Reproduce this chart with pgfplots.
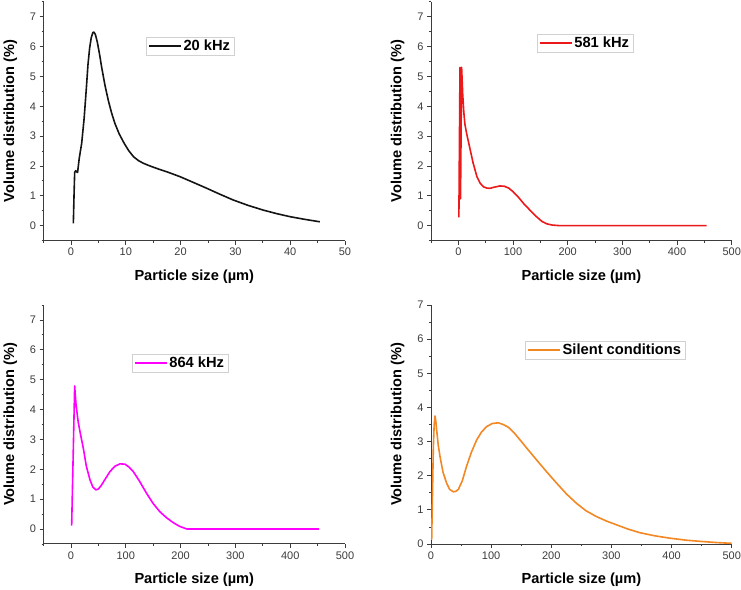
\documentclass[border=0pt]{standalone}
\usepackage{fontspec}
\setmainfont{Liberation Sans}
\usepackage{pgfplots}
\pgfplotsset{compat=1.18}

\definecolor{cBlack}{RGB}{20,20,20}
\definecolor{cRed}{RGB}{235,25,25}
\definecolor{cMag}{RGB}{255,0,255}
\definecolor{cOrange}{RGB}{242,135,35}
\definecolor{axgray}{RGB}{60,60,60}

\pgfplotsset{
  psd/.style={
    scale only axis,
    axis x line=bottom, axis y line=left,
    axis line style={-, axgray, line width=0.9pt},
    tick align=outside,
    major tick length=4pt, minor tick length=2pt,
    every tick/.style={axgray, line width=0.8pt},
    tick label style={font=\fontsize{11}{11}\selectfont, text=axgray},
    /pgf/number format/assume math mode=true,
    xlabel={\bfseries Particle size (µm)},
    ylabel={\bfseries Volume distribution (\%)},
    label style={font=\fontsize{14.6}{15}\selectfont},
    xlabel style={yshift=-7pt},
    ylabel style={yshift=6pt},
    ytick={0,1,...,7},
    legend cell align=left,
    legend image code/.code={\draw[#1, line width=1.5pt] (0pt,0pt) -- (32pt,0pt);},
    legend style={draw=black!18, line width=0.6pt, font=\fontsize{14.7}{15}\selectfont\bfseries,
      inner xsep=2pt, inner ysep=1pt, anchor=center, fill=white},
    every axis plot/.append style={line width=1.6pt, line join=round},
  }
}

\begin{document}
\begin{tikzpicture}
\useasboundingbox (0pt,0pt) rectangle (741pt,589pt);

% 20 kHz
\begin{axis}[psd, at={(43.6pt,348.4pt)}, anchor=south west, width=301.4pt, height=238.9pt,
  xmin=-5, xmax=50, ymin=-0.5, ymax=7.5,
  xtick={0,10,...,50}, minor xtick={-5,5,15,25,35,45},
  minor ytick={-0.5,0.5,...,7.5},
  legend style={at={(axis description cs:0.486,0.815)}}]
\addplot[cBlack] coordinates {
 (0.43,0.08) (0.55,1.0) (0.67,1.78) (0.85,1.84) (1.05,1.80) (1.2,1.78) (1.5,2.25)
 (1.95,2.76) (2.4,3.6) (2.8,4.6) (3.1,5.4) (3.4,5.95) (3.7,6.3) (4.0,6.47) (4.2,6.48)
 (4.45,6.4) (4.8,6.15) (5.2,5.75) (5.6,5.3) (6.2,4.7) (6.8,4.2) (7.4,3.78) (8.0,3.43)
 (8.8,3.07) (9.7,2.76) (10.5,2.52) (11.4,2.31) (12.3,2.18) (13.2,2.09) (14.4,2.0)
 (15.6,1.92) (17.7,1.79) (19.9,1.64) (22.3,1.45) (24.8,1.25) (27.2,1.05) (29.6,0.86)
 (32.3,0.68) (35.1,0.52) (37.6,0.4) (40,0.3) (42.7,0.21) (45.4,0.13)};
\addlegendentry{20 kHz}
\end{axis}

% 581 kHz
\begin{axis}[psd, at={(431pt,348.4pt)}, anchor=south west, width=300.7pt, height=238.9pt,
  xmin=-50, xmax=500, ymin=-0.5, ymax=7.5,
  xtick={0,100,...,500}, minor xtick={-50,50,150,250,350,450},
  minor ytick={-0.5,0.5,...,7.5},
  legend style={at={(axis description cs:0.512,0.827)}}]
\addplot[cRed] coordinates {
 (1,0.28) (3,5.3) (4,0.9) (6,5.3) (8,4.4) (10,3.8) (12,3.4) (15,3.1) (18,2.85) (21,2.6)
 (27,2.1) (34,1.64) (40,1.42) (46,1.3) (52,1.26) (58,1.25) (66,1.29) (76,1.33) (84,1.32)
 (92,1.26) (100,1.14) (110,0.95) (119,0.75) (131,0.52) (143,0.3) (153,0.14) (162,0.06)
 (172,0.02) (186,0) (454,0)};
\addlegendentry{581 kHz}
\end{axis}

% 864 kHz
\begin{axis}[psd, at={(43.6pt,45.1pt)}, anchor=south west, width=301.4pt, height=238.9pt,
  xmin=-50, xmax=500, ymin=-0.5, ymax=7.5,
  xtick={0,100,...,500}, minor xtick={-50,50,150,250,350,450},
  minor ytick={-0.5,0.5,...,7.5},
  legend style={at={(axis description cs:0.4525,0.757)}}]
\addplot[cMag] coordinates {
 (1.2,0.11) (6.7,4.79) (9,4.2) (13,3.6) (17,3.2) (22.5,2.7) (28,2.1) (34.7,1.64) (40,1.4)
 (45.6,1.31) (50,1.34) (55,1.45) (62,1.66) (71,1.92) (80,2.1) (89.4,2.18) (98.5,2.17)
 (106,2.07) (113.7,1.92) (125,1.6) (138,1.19) (150,0.85) (162,0.58) (174,0.38)
 (186.7,0.21) (198,0.09) (211,0) (453,0)};
\addlegendentry{864 kHz}
\end{axis}

% Silent conditions
\begin{axis}[psd, at={(431pt,45pt)}, anchor=south west, width=300.7pt, height=239pt,
  xmin=0, xmax=500, ymin=0, ymax=7,
  xtick={0,100,...,500}, minor xtick={50,150,250,350,450},
  minor ytick={0.5,1.5,...,6.5},
  legend style={at={(axis description cs:0.579,0.812)}}]
\addplot[cOrange] coordinates {
 (1.1,0.12) (2.5,1.5) (3.9,2.85) (5.3,3.5) (6.7,3.75) (8,3.6) (9.4,3.34) (12,2.9)
 (15,2.56) (20,2.1) (26,1.78) (31,1.6) (37,1.53) (41,1.54) (45.5,1.6) (52,1.85)
 (59,2.27) (67,2.68) (76,3.05) (84,3.28) (92.6,3.44) (102,3.53) (112,3.55) (120,3.5)
 (128.6,3.42) (138,3.26) (148,3.05) (161,2.77) (175.7,2.46) (192,2.12) (209,1.78)
 (225,1.47) (242,1.19) (258,0.97) (275.5,0.8) (292,0.67) (308.8,0.56) (327,0.44)
 (347.5,0.33) (372,0.24) (397.5,0.17) (425,0.11) (453,0.07) (477,0.04) (500,0.02)};
\addlegendentry{Silent conditions}
\end{axis}
\end{tikzpicture}
\end{document}
